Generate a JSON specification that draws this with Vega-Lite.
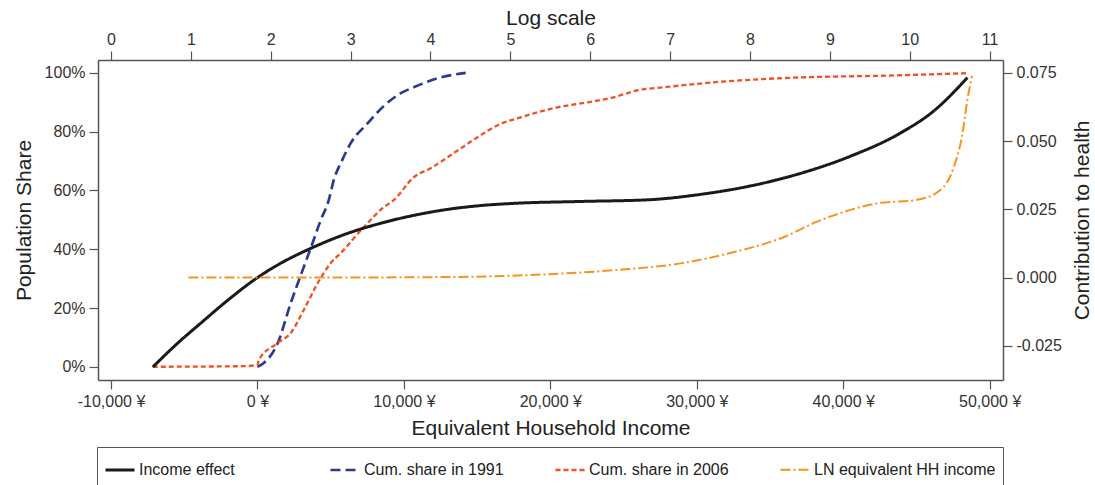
{
  "$schema": "https://vega.github.io/schema/vega-lite/v6.json",
  "autosize": {"type": "none"},
  "width": 905,
  "height": 320,
  "padding": {"left": 98, "top": 60, "right": 92, "bottom": 105},
  "background": "white",
  "config": {
    "view": {"stroke": null},
    "font": "Liberation Sans",
    "axis": {
      "grid": false,
      "domainColor": "#555555",
      "domainWidth": 1.5,
      "tickColor": "#555555",
      "tickWidth": 1.2,
      "tickSize": 9,
      "labelFont": "Liberation Sans",
      "labelFontSize": 16,
      "labelColor": "#333333",
      "labelPadding": 4,
      "titleFont": "Liberation Sans",
      "titleFontSize": 21,
      "titleFontWeight": "normal",
      "titleColor": "#222222"
    },
    "legend": {
      "labelFont": "Liberation Sans",
      "labelFontSize": 16,
      "labelColor": "#222222",
      "labelLimit": 400
    }
  },
  "datasets": {
    "shares": [
      {"income": 0, "share": 0, "series": "Cum. share in 1991"},
      {"income": 430, "share": 1.3, "series": "Cum. share in 1991"},
      {"income": 1386, "share": 8.1, "series": "Cum. share in 1991"},
      {"income": 2273, "share": 21.7, "series": "Cum. share in 1991"},
      {"income": 3160, "share": 33.9, "series": "Cum. share in 1991"},
      {"income": 3638, "share": 40.4, "series": "Cum. share in 1991"},
      {"income": 4321, "share": 49.9, "series": "Cum. share in 1991"},
      {"income": 4867, "share": 56.7, "series": "Cum. share in 1991"},
      {"income": 5208, "share": 63.5, "series": "Cum. share in 1991"},
      {"income": 5800, "share": 70.5, "series": "Cum. share in 1991"},
      {"income": 6369, "share": 76.1, "series": "Cum. share in 1991"},
      {"income": 7529, "share": 82.9, "series": "Cum. share in 1991"},
      {"income": 8621, "share": 88.7, "series": "Cum. share in 1991"},
      {"income": 9782, "share": 93.1, "series": "Cum. share in 1991"},
      {"income": 10669, "share": 95.1, "series": "Cum. share in 1991"},
      {"income": 12307, "share": 98.2, "series": "Cum. share in 1991"},
      {"income": 14218, "share": 100, "series": "Cum. share in 1991"},
      {"income": -7147, "share": 0, "series": "Cum. share in 2006"},
      {"income": -1000, "share": 0.2, "series": "Cum. share in 2006"},
      {"income": 0, "share": 0.6, "series": "Cum. share in 2006"},
      {"income": 89, "share": 2.3, "series": "Cum. share in 2006"},
      {"income": 1386, "share": 8.1, "series": "Cum. share in 2006"},
      {"income": 2273, "share": 11.5, "series": "Cum. share in 2006"},
      {"income": 3160, "share": 19.3, "series": "Cum. share in 2006"},
      {"income": 4116, "share": 28.5, "series": "Cum. share in 2006"},
      {"income": 5003, "share": 35.3, "series": "Cum. share in 2006"},
      {"income": 5686, "share": 38.7, "series": "Cum. share in 2006"},
      {"income": 7256, "share": 47.5, "series": "Cum. share in 2006"},
      {"income": 8621, "share": 54.3, "series": "Cum. share in 2006"},
      {"income": 9304, "share": 56.7, "series": "Cum. share in 2006"},
      {"income": 10669, "share": 64.5, "series": "Cum. share in 2006"},
      {"income": 11829, "share": 67.6, "series": "Cum. share in 2006"},
      {"income": 13399, "share": 72.7, "series": "Cum. share in 2006"},
      {"income": 15242, "share": 78.8, "series": "Cum. share in 2006"},
      {"income": 16403, "share": 82.2, "series": "Cum. share in 2006"},
      {"income": 17973, "share": 84.9, "series": "Cum. share in 2006"},
      {"income": 20498, "share": 88.3, "series": "Cum. share in 2006"},
      {"income": 22546, "share": 90.0, "series": "Cum. share in 2006"},
      {"income": 24321, "share": 91.7, "series": "Cum. share in 2006"},
      {"income": 25959, "share": 94.1, "series": "Cum. share in 2006"},
      {"income": 27734, "share": 95.1, "series": "Cum. share in 2006"},
      {"income": 31147, "share": 96.8, "series": "Cum. share in 2006"},
      {"income": 35720, "share": 98.2, "series": "Cum. share in 2006"},
      {"income": 43911, "share": 99.2, "series": "Cum. share in 2006"},
      {"income": 48485, "share": 99.9, "series": "Cum. share in 2006"}
    ],
    "effect": [
      {"income": -7147, "contrib": -0.0328, "series": "Income effect"},
      {"income": -5440, "contrib": -0.0240, "series": "Income effect"},
      {"income": -3870, "contrib": -0.0167, "series": "Income effect"},
      {"income": -2027, "contrib": -0.0083, "series": "Income effect"},
      {"income": 0, "contrib": 0.0, "series": "Income effect"},
      {"income": 1570, "contrib": 0.0052, "series": "Income effect"},
      {"income": 3638, "contrib": 0.0107, "series": "Income effect"},
      {"income": 6369, "contrib": 0.0166, "series": "Income effect"},
      {"income": 8416, "contrib": 0.0199, "series": "Income effect"},
      {"income": 10669, "contrib": 0.0228, "series": "Income effect"},
      {"income": 12990, "contrib": 0.0250, "series": "Income effect"},
      {"income": 15242, "contrib": 0.0264, "series": "Income effect"},
      {"income": 17495, "contrib": 0.0272, "series": "Income effect"},
      {"income": 22068, "contrib": 0.0279, "series": "Income effect"},
      {"income": 26642, "contrib": 0.0285, "series": "Income effect"},
      {"income": 30259, "contrib": 0.0305, "series": "Income effect"},
      {"income": 33672, "contrib": 0.0336, "series": "Income effect"},
      {"income": 37085, "contrib": 0.0382, "series": "Income effect"},
      {"income": 40498, "contrib": 0.0445, "series": "Income effect"},
      {"income": 43911, "contrib": 0.0530, "series": "Income effect"},
      {"income": 46164, "contrib": 0.0610, "series": "Income effect"},
      {"income": 48485, "contrib": 0.0733, "series": "Income effect"}
    ],
    "lnincome": [
      {"logincome": 0.97, "contrib": 0.0, "series": "LN equivalent HH income"},
      {"logincome": 2.37, "contrib": 0.0, "series": "LN equivalent HH income"},
      {"logincome": 4.21, "contrib": 0.0002, "series": "LN equivalent HH income"},
      {"logincome": 5.46, "contrib": 0.0012, "series": "LN equivalent HH income"},
      {"logincome": 6.29, "contrib": 0.0027, "series": "LN equivalent HH income"},
      {"logincome": 7.13, "contrib": 0.0052, "series": "LN equivalent HH income"},
      {"logincome": 7.75, "contrib": 0.0090, "series": "LN equivalent HH income"},
      {"logincome": 8.42, "contrib": 0.0148, "series": "LN equivalent HH income"},
      {"logincome": 8.84, "contrib": 0.0205, "series": "LN equivalent HH income"},
      {"logincome": 9.17, "contrib": 0.0240, "series": "LN equivalent HH income"},
      {"logincome": 9.59, "contrib": 0.0272, "series": "LN equivalent HH income"},
      {"logincome": 10.09, "contrib": 0.0285, "series": "LN equivalent HH income"},
      {"logincome": 10.38, "contrib": 0.0320, "series": "LN equivalent HH income"},
      {"logincome": 10.55, "contrib": 0.0404, "series": "LN equivalent HH income"},
      {"logincome": 10.66, "contrib": 0.0528, "series": "LN equivalent HH income"},
      {"logincome": 10.72, "contrib": 0.0649, "series": "LN equivalent HH income"},
      {"logincome": 10.78, "contrib": 0.0740, "series": "LN equivalent HH income"}
    ]
  },
  "resolve": {"scale": {"x": "independent", "y": "independent"}, "axis": {"x": "independent", "y": "independent"}},
  "layer": [
    {
      "data": {"name": "shares"},
      "mark": {"type": "line", "interpolate": "monotone"},
      "encoding": {
        "x": {"field": "income", "type": "quantitative",
              "scale": {"domain": [-10890, 50910], "nice": false, "zero": false},
              "axis": {"orient": "bottom", "title": "Equivalent Household Income", "values": [-10000, 0, 10000, 20000, 30000, 40000, 50000],
                       "labelExpr": "replace(format(datum.value, ','), '\u2212', '-') + ' \u00a5'", "titlePadding": 8}},
        "y": {"field": "share", "type": "quantitative",
              "scale": {"domain": [-4.5, 104.4], "nice": false, "zero": false},
              "axis": {"orient": "left", "title": "Population Share", "values": [0, 20, 40, 60, 80, 100],
                       "labelExpr": "datum.value + '%'", "titlePadding": 10}},
        "color": {"field": "series", "type": "nominal",
                  "scale": {"domain": ["Income effect", "Cum. share in 1991", "Cum. share in 2006", "LN equivalent HH income"],
                            "range": ["#1a1a1a", "#2B3990", "#F05323", "#F7941E"]},
                  "legend": {"title": null, "orient": "none", "legendX": -1, "legendY": 387, "direction": "horizontal", "columns": 4,
                             "gridAlign": "all", "columnPadding": 4, "padding": 7, "strokeColor": "#555555",
                             "symbolType": "stroke", "symbolSize": 841, "labelOffset": 3}},
        "strokeDash": {"field": "series", "type": "nominal",
                       "scale": {"domain": ["Income effect", "Cum. share in 1991", "Cum. share in 2006", "LN equivalent HH income"],
                                 "range": [[1, 0], [10, 5], [5, 3], [10, 3, 2, 3]]},
                       "legend": {"title": null}},
        "strokeWidth": {"field": "series", "type": "ordinal",
                        "scale": {"domain": ["Income effect", "Cum. share in 1991", "Cum. share in 2006", "LN equivalent HH income"],
                                  "range": [3, 2, 2, 2]},
                        "legend": {"title": null}}
      }
    },
    {
      "data": {"name": "effect"},
      "mark": {"type": "line", "interpolate": "monotone"},
      "encoding": {
        "x": {"field": "income", "type": "quantitative",
              "scale": {"domain": [-10890, 50910], "nice": false, "zero": false},
              "axis": null},
        "y": {"field": "contrib", "type": "quantitative",
              "scale": {"domain": [-0.03755, 0.07976], "nice": false, "zero": false},
              "axis": {"orient": "right", "title": "Contribution to health", "values": [-0.025, 0, 0.025, 0.05, 0.075],
                       "labelExpr": "replace(format(datum.value, '.3f'), '\u2212', '-')", "titlePadding": 10, "titleAngle": 270, "titleBaseline": "top"}},
        "color": {"field": "series", "type": "nominal"},
        "strokeDash": {"field": "series", "type": "nominal"},
        "strokeWidth": {"field": "series", "type": "ordinal"}
      }
    },
    {
      "data": {"name": "lnincome"},
      "mark": {"type": "line", "interpolate": "monotone"},
      "encoding": {
        "x": {"field": "logincome", "type": "quantitative",
              "scale": {"domain": [-0.1625, 11.1675], "nice": false, "zero": false},
              "axis": {"orient": "top", "title": "Log scale", "values": [0, 1, 2, 3, 4, 5, 6, 7, 8, 9, 10, 11], "titlePadding": 3}},
        "y": {"field": "contrib", "type": "quantitative",
              "scale": {"domain": [-0.03755, 0.07976], "nice": false, "zero": false},
              "axis": null},
        "color": {"field": "series", "type": "nominal"},
        "strokeDash": {"field": "series", "type": "nominal"},
        "strokeWidth": {"field": "series", "type": "ordinal"}
      }
    }
  ]
}
